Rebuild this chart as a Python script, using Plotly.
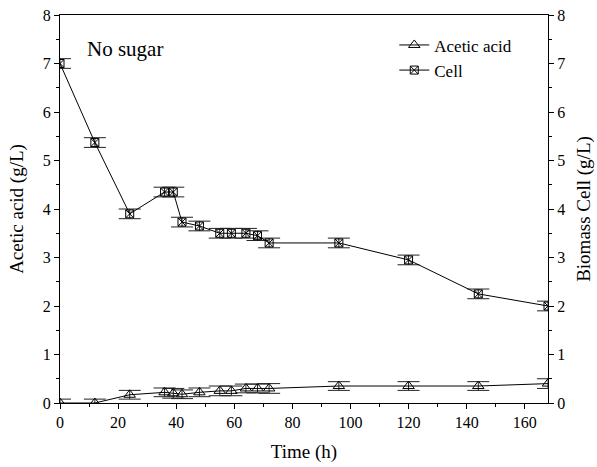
import plotly.graph_objects as go

time_h = [0, 12, 24, 36, 39, 42, 48, 55, 59, 64, 68, 72, 96, 120, 144, 168]
acetic = [0.0, 0.0, 0.17, 0.22, 0.2, 0.18, 0.22, 0.25, 0.25, 0.3, 0.3, 0.3, 0.35, 0.35, 0.35, 0.4]
acetic_err = [0.08, 0.08, 0.09, 0.09, 0.1, 0.09, 0.09, 0.1, 0.1, 0.09, 0.09, 0.1, 0.09, 0.09, 0.09, 0.1]
cell = [7.0, 5.37, 3.9, 4.35, 4.35, 3.73, 3.65, 3.5, 3.5, 3.5, 3.45, 3.3, 3.3, 2.95, 2.25, 2.0]
cell_err = [0.1, 0.1, 0.1, 0.1, 0.1, 0.1, 0.1, 0.1, 0.1, 0.1, 0.1, 0.1, 0.1, 0.1, 0.1, 0.1]

FONT = "Liberation Serif, Times New Roman, serif"

fig = go.Figure()
fig.add_trace(go.Scatter(
    x=time_h, y=acetic, name="Acetic acid", mode="lines+markers",
    line=dict(color="black", width=1),
    marker=dict(symbol="triangle-up-open", size=10, color="black", line=dict(width=1)),
    error_y=dict(type="data", array=acetic_err, visible=True, color="#222222", thickness=1, width=11),
    yaxis="y", cliponaxis=True,
))
fig.add_trace(go.Scatter(
    x=time_h, y=cell, name="Cell", mode="lines+markers",
    line=dict(color="black", width=1),
    marker=dict(symbol="square-x-open", size=8, color="black", line=dict(width=1)),
    error_y=dict(type="data", array=cell_err, visible=True, color="#222222", thickness=1, width=11),
    yaxis="y2", cliponaxis=True,
))

axis_common = dict(
    showgrid=False, zeroline=False, showline=True, linecolor="black", linewidth=1,
    ticks="outside", ticklen=5, tickwidth=1, tickcolor="black", automargin=False,
    tickfont=dict(family=FONT, size=16, color="black"),
)

fig.update_layout(
    width=597, height=467,
    margin=dict(l=60, r=49, t=15, b=64),
    plot_bgcolor="white", paper_bgcolor="white",
    font=dict(family=FONT, size=16, color="black"),
    showlegend=True,
    legend=dict(x=0.685, y=0.968, xanchor="left", yanchor="top", bgcolor="rgba(0,0,0,0)",
                font=dict(family=FONT, size=17), tracegroupgap=0, itemwidth=30),
    xaxis=dict(**axis_common, range=[0, 168], dtick=20, tick0=0,
               minor=dict(ticks="outside", dtick=10, ticklen=3, tickcolor="black"),
               mirror=True,
               title=dict(text="Time (h)", font=dict(family=FONT, size=19), standoff=14)),
    yaxis=dict(**axis_common, range=[0, 8], dtick=1,
               minor=dict(ticks="outside", dtick=0.5, ticklen=3, tickcolor="black"),
               title=dict(text="Acetic acid (g/L)", font=dict(family=FONT, size=19), standoff=14)),
    yaxis2=dict(**axis_common, range=[0, 8], dtick=1, overlaying="y", side="right",
                minor=dict(ticks="outside", dtick=0.5, ticklen=3, tickcolor="black"),
                title=dict(text="Biomass Cell (g/L)", font=dict(family=FONT, size=19), standoff=12)),
    annotations=[dict(text="No sugar", x=0.051, y=0.912, xref="paper", yref="paper",
                      xanchor="left", yanchor="middle", showarrow=False,
                      font=dict(family=FONT, size=21))],
)

fig.write_html("out.html", config={"displayModeBar": False},
               post_script="document.body.style.margin='0';")
